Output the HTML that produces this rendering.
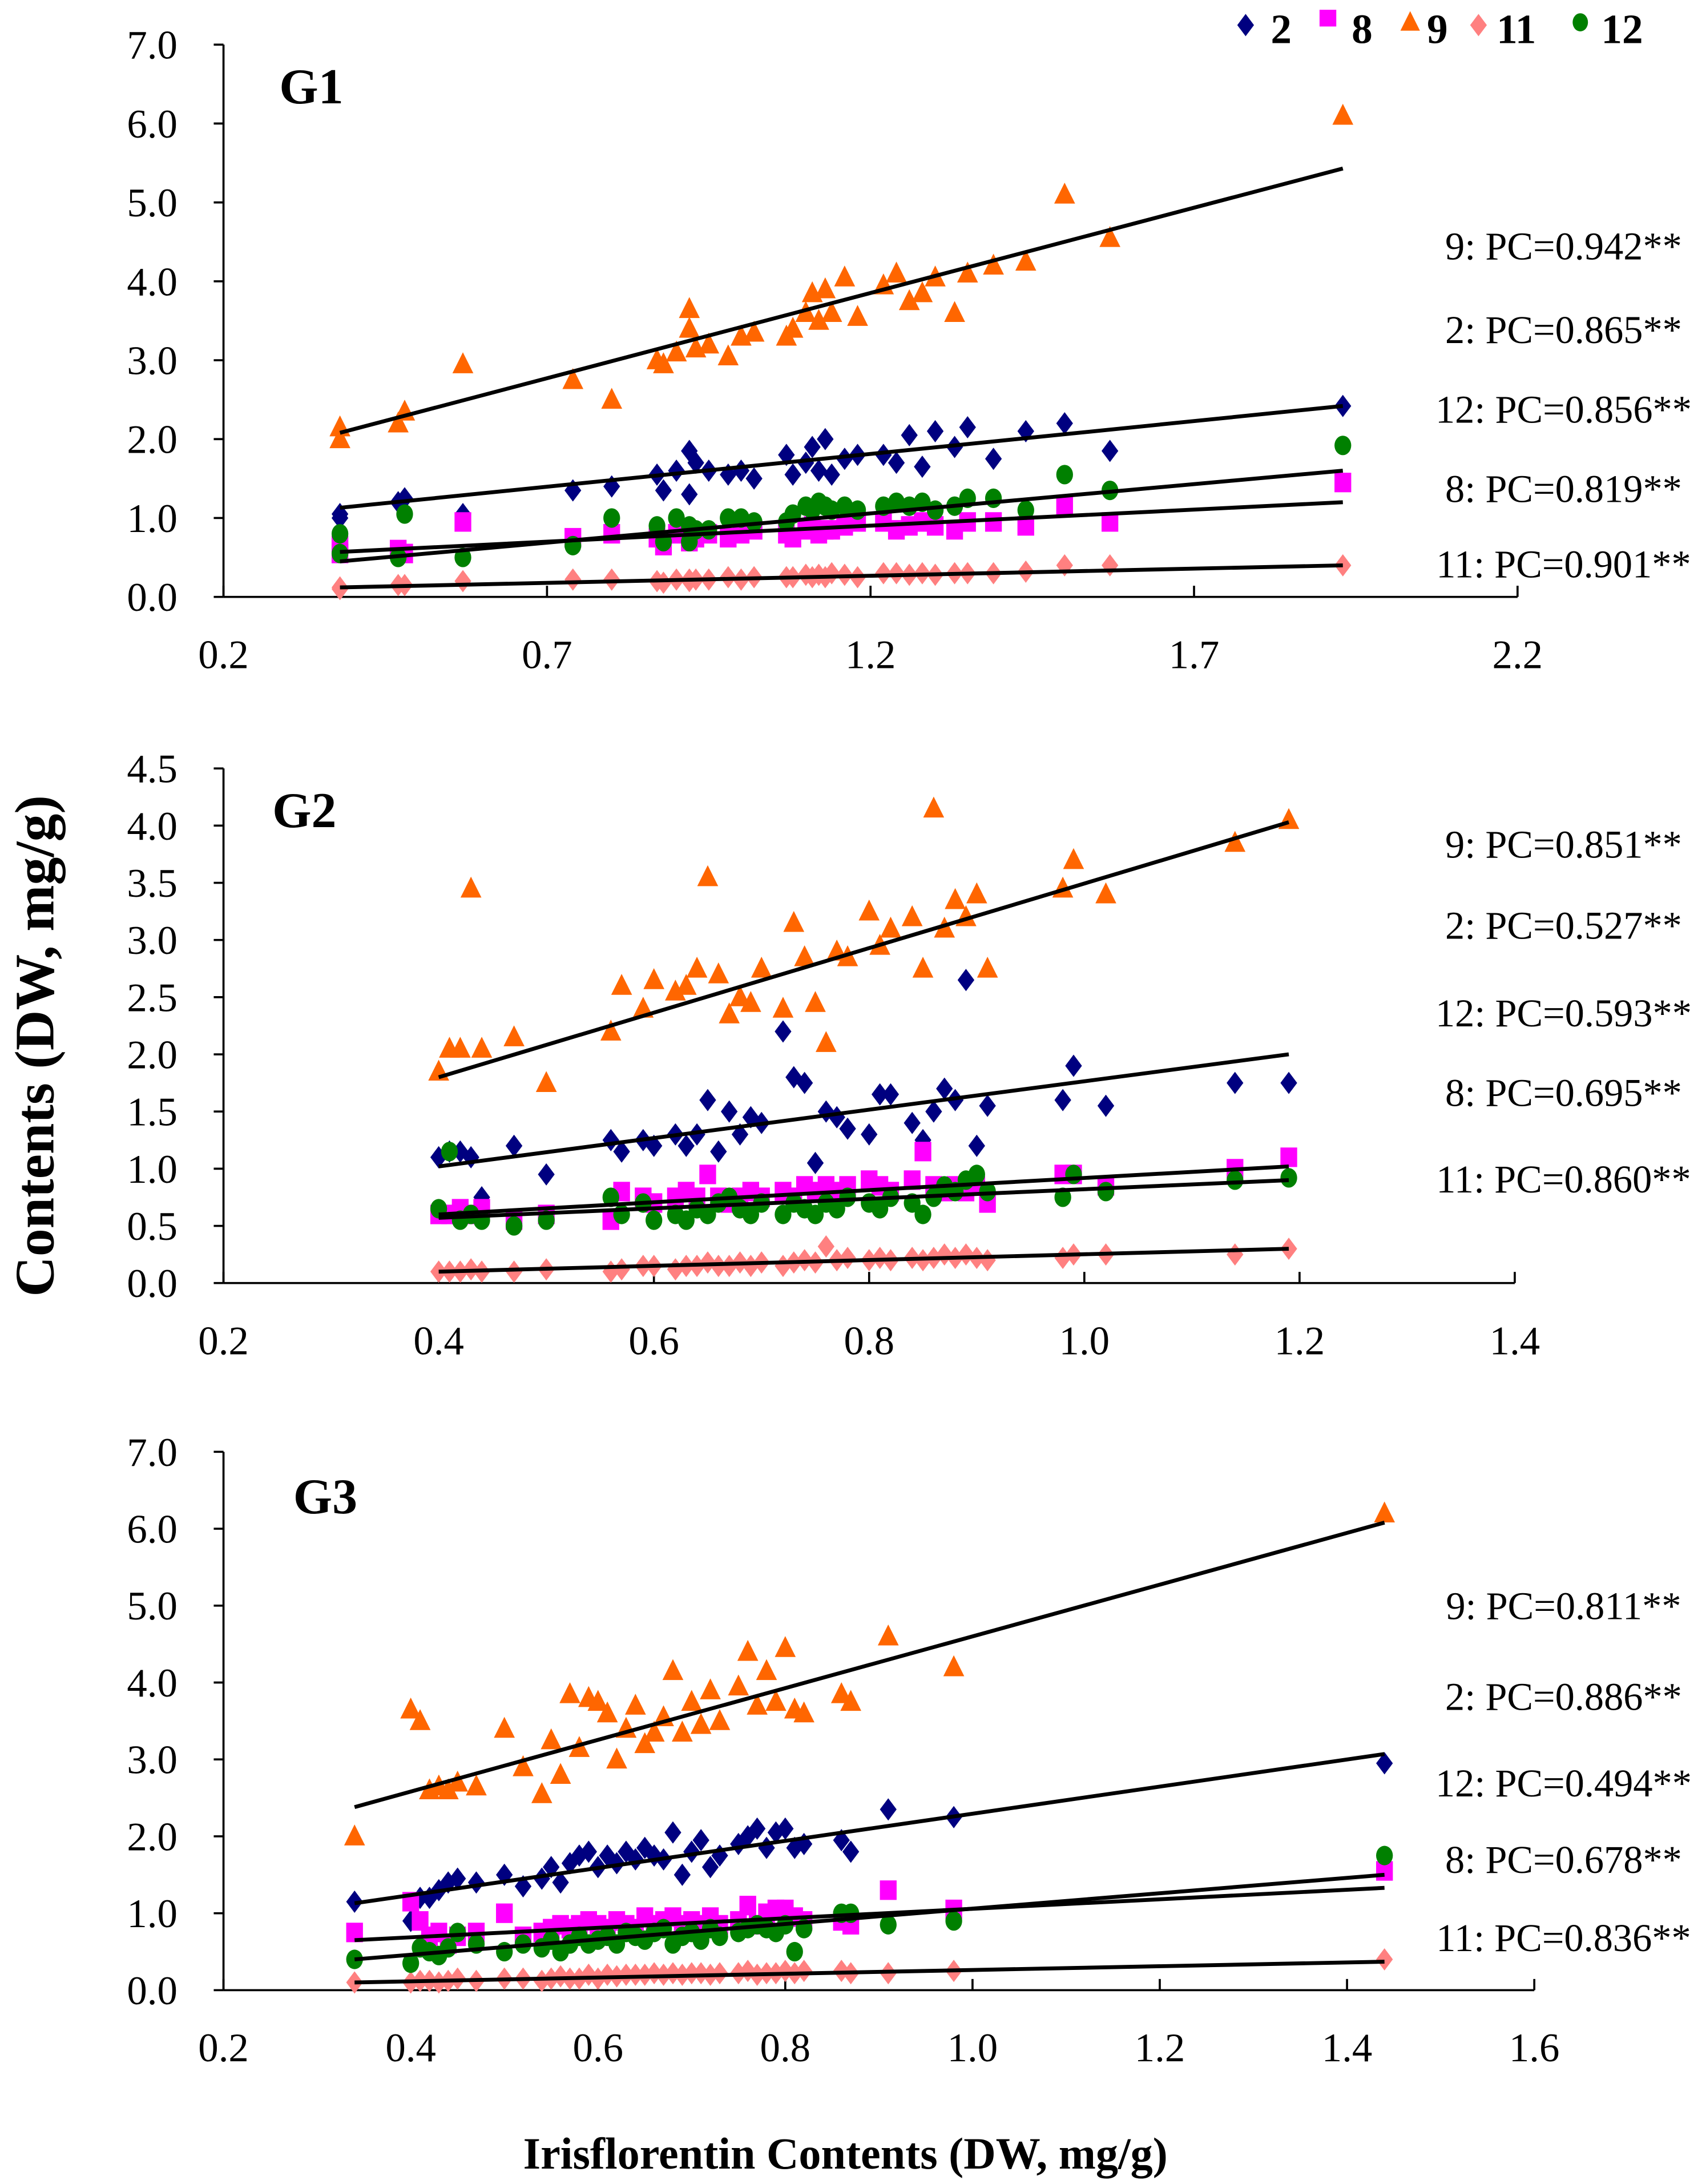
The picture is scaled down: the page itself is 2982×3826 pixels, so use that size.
<!DOCTYPE html>
<html><head><meta charset="utf-8"><style>
html,body{margin:0;padding:0;background:#fff;}
svg{display:block;}
text{font-family:"Liberation Serif",serif;fill:#000;}
</style></head><body>
<svg id="chart" width="2982" height="3826" viewBox="0 0 1220 1566" xmlns="http://www.w3.org/2000/svg">
<g>
  <path d="M893,10 L899,18 L893,26 L887,18Z" fill="#000080"/>
  <text x="911" y="31" font-weight="bold" font-size="30">2</text>
  <rect x="946" y="7" width="12" height="12" fill="#ff00ff"/>
  <text x="969" y="31" font-weight="bold" font-size="30">8</text>
  <path d="M1011,8 L1018,22 L1004,22Z" fill="#ff6600"/>
  <text x="1023" y="31" font-weight="bold" font-size="30">9</text>
  <path d="M1060,10 L1066,18 L1060,26 L1054,18Z" fill="#ff8080"/>
  <text x="1073" y="31" font-weight="bold" font-size="30">11</text>
  <ellipse cx="1133" cy="16" rx="5.5" ry="6.5" fill="#008000"/>
  <text x="1148" y="31" font-weight="bold" font-size="30">12</text>
</g>
<text transform="translate(38,750) rotate(-90)" text-anchor="middle" font-weight="bold" font-size="40">Contents (DW, mg/g)</text>
<text x="606" y="1555" text-anchor="middle" font-weight="bold" font-size="32">Irisflorentin Contents (DW, mg/g)</text>
</svg>
<script>
// ---- G1 data ----
const g1X = [0.38,0.38,0.47,0.48,0.57,0.74,0.80,0.87,0.88,0.90, 0.92,0.92,0.93,0.95,0.98,1.00,1.02,1.07,1.08,1.10, 1.11,1.12,1.13,1.14,1.16,1.18,1.22,1.24,1.26,1.28, 1.30,1.33,1.35,1.39,1.44,1.50,1.57,1.93];
const g1S2 = [1.0,1.05,1.2,1.25,1.05,1.35,1.4,1.55,1.35,1.6, 1.85,1.3,1.7,1.6,1.55,1.6,1.5,1.8,1.55,1.7, 1.9,1.6,2.0,1.55,1.75,1.8,1.8,1.7,2.05,1.65, 2.1,1.9,2.15,1.75,2.1,2.2,1.85,2.42];
const g1S8 = [0.55,0.65,0.6,0.55,0.95,0.75,0.8,0.75,0.65,0.8, 0.75,0.7,0.75,0.8,0.75,0.8,0.85,0.8,0.75,0.85, 0.9,0.8,0.85,0.85,0.9,0.95,0.95,0.85,0.9,0.95, 0.9,0.85,0.95,0.95,0.9,1.15,0.95,1.45];
const g1S9 = [2.0,2.15,2.2,2.35,2.95,2.75,2.5,3.0,2.95,3.1, 3.65,3.4,3.15,3.2,3.05,3.3,3.35,3.3,3.4,3.6, 3.85,3.5,3.9,3.6,4.05,3.55,3.95,4.1,3.75,3.85, 4.05,3.6,4.1,4.2,4.25,5.1,4.55,6.1];
const g1S11 = [0.1,0.12,0.15,0.15,0.2,0.22,0.22,0.2,0.18,0.22, 0.22,0.2,0.22,0.22,0.25,0.22,0.25,0.25,0.25,0.28, 0.25,0.28,0.25,0.3,0.28,0.25,0.3,0.3,0.28,0.3, 0.28,0.3,0.3,0.3,0.32,0.4,0.4,0.4];
const g1S12 = [0.8,0.55,0.5,1.05,0.5,0.65,1.0,0.9,0.7,1.0, 0.7,0.9,0.85,0.85,1.0,1.0,0.95,0.95,1.05,1.15, 1.1,1.2,1.15,1.1,1.15,1.1,1.15,1.2,1.15,1.2, 1.1,1.15,1.25,1.25,1.1,1.55,1.35,1.92];
const g1FitX = [0.38,1.93];
const g1Fit9 = [2.08,5.43], g1Fit2 = [1.13,2.42], g1Fit12 = [0.45,1.6], g1Fit8 = [0.57,1.2], g1Fit11 = [0.12,0.4];
const g1Labels = ["9: PC=0.942**","2: PC=0.865**","12: PC=0.856**","8: PC=0.819**","11: PC=0.901**"];
const g1XTicks = [0.2,0.7,1.2,1.7,2.2];
const g1YTicks = [0,1,2,3,4,5,6,7];

// ---- G2 data ----
const g2X = [0.40,0.41,0.42,0.43,0.44,0.47,0.50,0.56,0.57,0.59, 0.60,0.62,0.63,0.64,0.65,0.66,0.67,0.68,0.69,0.70, 0.72,0.73,0.74,0.75,0.76,0.77,0.78,0.80,0.81,0.82, 0.84,0.85,0.86,0.87,0.88,0.89,0.90,0.91,0.98,0.99, 1.02,1.14,1.19];
const g2S2 = [1.1,1.15,1.15,1.1,0.75,1.2,0.95,1.25,1.15,1.25, 1.2,1.3,1.2,1.3,1.6,1.15,1.5,1.3,1.45,1.4, 2.2,1.8,1.75,1.05,1.5,1.45,1.35,1.3,1.65,1.65, 1.4,1.25,1.5,1.7,1.6,2.65,1.2,1.55,1.6,1.9, 1.55,1.75,1.75];
const g2S8 = [0.6,0.6,0.65,0.6,0.65,0.55,0.6,0.55,0.8,0.75, 0.7,0.75,0.8,0.75,0.95,0.75,0.7,0.75,0.8,0.75, 0.8,0.75,0.85,0.8,0.85,0.8,0.85,0.9,0.85,0.8, 0.9,1.15,0.85,0.8,0.85,0.8,0.85,0.7,0.95,0.95, 0.85,1.0,1.1];
const g2S9 = [1.85,2.05,2.05,3.45,2.05,2.15,1.75,2.2,2.6,2.4, 2.65,2.55,2.6,2.75,3.55,2.7,2.35,2.5,2.45,2.75, 2.4,3.15,2.85,2.45,2.1,2.9,2.85,3.25,2.95,3.1, 3.2,2.75,4.15,3.1,3.35,3.2,3.4,2.75,3.45,3.7, 3.4,3.85,4.05];
const g2S11 = [0.1,0.1,0.1,0.12,0.1,0.1,0.12,0.1,0.12,0.15, 0.15,0.12,0.15,0.15,0.18,0.15,0.15,0.18,0.15,0.18, 0.15,0.18,0.2,0.18,0.32,0.2,0.22,0.2,0.22,0.2, 0.22,0.2,0.22,0.25,0.22,0.25,0.22,0.2,0.22,0.25, 0.25,0.25,0.3];
const g2S12 = [0.65,1.15,0.55,0.6,0.55,0.5,0.55,0.75,0.6,0.7, 0.55,0.6,0.55,0.65,0.6,0.7,0.75,0.65,0.6,0.7, 0.6,0.7,0.65,0.6,0.7,0.65,0.75,0.7,0.65,0.75, 0.7,0.6,0.75,0.85,0.8,0.9,0.95,0.8,0.75,0.95, 0.8,0.9,0.92];
const g2FitX = [0.40,1.19];
const g2Fit9 = [1.8,4.03], g2Fit2 = [1.02,2.0], g2Fit12 = [0.57,0.9], g2Fit8 = [0.6,1.02], g2Fit11 = [0.1,0.3];
const g2Labels = ["9: PC=0.851**","2: PC=0.527**","12: PC=0.593**","8: PC=0.695**","11: PC=0.860**"];
const g2XTicks = [0.2,0.4,0.6,0.8,1.0,1.2,1.4];
const g2YTicks = [0,0.5,1,1.5,2,2.5,3,3.5,4,4.5];

// ---- G3 data ----
const g3X = [0.34,0.40,0.41,0.42,0.43,0.44,0.45,0.47,0.50,0.52, 0.54,0.55,0.56,0.57,0.58,0.59,0.60,0.61,0.62,0.63, 0.64,0.65,0.66,0.67,0.68,0.69,0.70,0.71,0.72,0.73, 0.75,0.76,0.77,0.78,0.79,0.80,0.81,0.82,0.86,0.87, 0.91,0.98,1.44];
const g3S2 = [1.15,0.9,1.2,1.2,1.3,1.4,1.45,1.4,1.5,1.35, 1.45,1.6,1.4,1.65,1.75,1.8,1.6,1.75,1.65,1.8, 1.7,1.85,1.75,1.7,2.05,1.5,1.8,1.95,1.6,1.75, 1.9,2.0,2.1,1.85,2.05,2.1,1.85,1.9,1.95,1.8, 2.35,2.25,2.95];
const g3S8 = [0.75,1.15,0.9,0.7,0.75,0.6,0.7,0.75,1.0,0.7, 0.75,0.8,0.85,0.8,0.85,0.9,0.85,0.8,0.9,0.85, 0.8,0.95,0.85,0.9,0.95,0.85,0.9,0.85,0.95,0.85, 0.9,1.1,0.85,1.0,1.05,1.05,0.95,0.9,0.9,0.85, 1.3,1.05,1.55];
const g3S9 = [2.0,3.65,3.5,2.6,2.65,2.6,2.7,2.65,3.4,2.9, 2.55,3.25,2.8,3.85,3.15,3.8,3.75,3.6,3.0,3.4, 3.7,3.2,3.35,3.55,4.15,3.35,3.75,3.45,3.9,3.5, 3.95,4.4,3.7,4.15,3.75,4.45,3.65,3.6,3.85,3.75, 4.6,4.2,6.2];
const g3S11 = [0.1,0.1,0.12,0.12,0.1,0.12,0.15,0.12,0.15,0.15, 0.12,0.15,0.18,0.15,0.15,0.2,0.15,0.2,0.18,0.2, 0.2,0.2,0.22,0.2,0.22,0.2,0.22,0.22,0.2,0.22, 0.22,0.25,0.2,0.22,0.22,0.25,0.22,0.25,0.25,0.22, 0.22,0.25,0.4];
const g3S12 = [0.4,0.35,0.55,0.5,0.45,0.55,0.75,0.6,0.5,0.6, 0.55,0.65,0.5,0.6,0.7,0.6,0.65,0.7,0.6,0.75, 0.7,0.65,0.75,0.8,0.6,0.7,0.75,0.65,0.8,0.7, 0.75,0.8,0.85,0.8,0.75,0.85,0.5,0.8,1.0,1.0, 0.85,0.9,1.75];
const g3FitX = [0.34,1.44];
const g3Fit9 = [2.38,6.08], g3Fit2 = [1.13,3.07], g3Fit12 = [0.4,1.5], g3Fit8 = [0.65,1.33], g3Fit11 = [0.1,0.37];
const g3Labels = ["9: PC=0.811**","2: PC=0.886**","12: PC=0.494**","8: PC=0.678**","11: PC=0.836**"];
const g3XTicks = [0.2,0.4,0.6,0.8,1.0,1.2,1.4,1.6];
const g3YTicks = [0,1,2,3,4,5,6,7];

const NS = "http://www.w3.org/2000/svg";
const svg = document.getElementById('chart');
function mk(tag, attrs, parent){
  const e = document.createElementNS(NS, tag);
  for (const k in attrs) e.setAttribute(k, attrs[k]);
  (parent||svg).appendChild(e);
  return e;
}
function drawPanel(p){
  const g = mk('g', {});
  
  
  const sx = v => p.L + (v - p.xmin) / (p.xmax - p.xmin) * (p.R - p.L);
  const sy = v => p.B - (v - 0) / (p.ymax) * (p.B - p.T);
  const ya = mk('line', {x1:p.L, y1:p.T, x2:p.L, y2:p.B, stroke:'#000', 'stroke-width':1.5}, g);
  
  
  const xa = mk('line', {x1:p.L, y1:p.B, x2:p.R, y2:p.B, stroke:'#000', 'stroke-width':1.5}, g);
  
  
  p.yTicks.forEach(v => {
    mk('line', {x1:p.L-7, y1:sy(v), x2:p.L, y2:sy(v), stroke:'#000', 'stroke-width':1.5}, g);
    const t = mk('text', {x:p.L-33, y:sy(v)+10, 'text-anchor':'end', 'font-size':29}, g);
    t.textContent = v.toFixed(1);
    
    
  });
  p.xTicks.forEach(v => {
    mk('line', {x1:sx(v), y1:p.B-8, x2:sx(v), y2:p.B, stroke:'#000', 'stroke-width':1.5}, g);
    const t = mk('text', {x:sx(v), y:p.B+51, 'text-anchor':'middle', 'font-size':29}, g);
    t.textContent = v.toFixed(1);
    
    
  });
  const title = mk('text', {x:p.titleX, y:p.titleY, 'font-size':36, 'font-weight':'bold'}, g);
  title.textContent = p.name.toUpperCase();
  
  
  const series = [
    {id:'2', ys:p.s2, color:'#000080', shape:'diamond', sz:7},
    {id:'8', ys:p.s8, color:'#ff00ff', shape:'square', sz:6},
    {id:'9', ys:p.s9, color:'#ff6600', shape:'triangle', sz:7.5},
    {id:'11', ys:p.s11, color:'#ff8080', shape:'diamond', sz:7},
    {id:'12', ys:p.s12, color:'#008000', shape:'circle', sz:6}
  ];
  series.forEach(s => {
    const sg = mk('g', {fill:s.color}, g);
    
    
    p.x.forEach((xv, i) => {
      const cx = sx(xv), cy = sy(s.ys[i]); const r = s.sz;
      let m;
      if (s.shape === 'diamond') m = mk('path', {d:`M${cx},${cy-r-1} L${cx+r-1},${cy} L${cx},${cy+r+1} L${cx-r+1},${cy}Z`}, sg);
      else if (s.shape === 'square') m = mk('rect', {x:cx-r, y:cy-r-1, width:2*r, height:2*r+2}, sg);
      else if (s.shape === 'triangle') m = mk('path', {d:`M${cx},${cy-r-1} L${cx+r},${cy+r-1} L${cx-r},${cy+r-1}Z`}, sg);
      else m = mk('ellipse', {cx:cx, cy:cy, rx:r, ry:r+1}, sg);
      
      
    });
  });
  [['9',p.f9],['2',p.f2],['12',p.f12],['8',p.f8],['11',p.f11]].forEach(f => {
    const l = mk('line', {x1:sx(p.fx[0]), y1:sy(f[1][0]), x2:sx(p.fx[1]), y2:sy(f[1][1]), stroke:'#000', 'stroke-width':2.8}, g);
    
    
  });
  p.labels.forEach((txt, i) => {
    const t = mk('text', {x:1121, y:p.labelY[i]+10, 'text-anchor':'middle', 'font-size':28}, g);
    t.textContent = txt;
    
    
  });
}
drawPanel({name:'g1', L:160, R:1088, T:32, B:428, xmin:0.2, xmax:2.2, ymax:7, xTicks:g1XTicks, yTicks:g1YTicks,
  x:g1X, s2:g1S2, s8:g1S8, s9:g1S9, s11:g1S11, s12:g1S12, fx:g1FitX, f9:g1Fit9, f2:g1Fit2, f12:g1Fit12, f8:g1Fit8, f11:g1Fit11,
  labels:g1Labels, labelY:[176,236,293,350,404], titleX:200, titleY:74});
drawPanel({name:'g2', L:160, R:1086, T:551, B:920, xmin:0.2, xmax:1.4, ymax:4.5, xTicks:g2XTicks, yTicks:g2YTicks,
  x:g2X, s2:g2S2, s8:g2S8, s9:g2S9, s11:g2S11, s12:g2S12, fx:g2FitX, f9:g2Fit9, f2:g2Fit2, f12:g2Fit12, f8:g2Fit8, f11:g2Fit11,
  labels:g2Labels, labelY:[605,663,726,783,845], titleX:195, titleY:593});
drawPanel({name:'g3', L:160, R:1100, T:1041, B:1427, xmin:0.2, xmax:1.6, ymax:7, xTicks:g3XTicks, yTicks:g3YTicks,
  x:g3X, s2:g3S2, s8:g3S8, s9:g3S9, s11:g3S11, s12:g3S12, fx:g3FitX, f9:g3Fit9, f2:g3Fit2, f12:g3Fit12, f8:g3Fit8, f11:g3Fit11,
  labels:g3Labels, labelY:[1151,1216,1278,1333,1389], titleX:210, titleY:1085});
</script>
</body></html>
